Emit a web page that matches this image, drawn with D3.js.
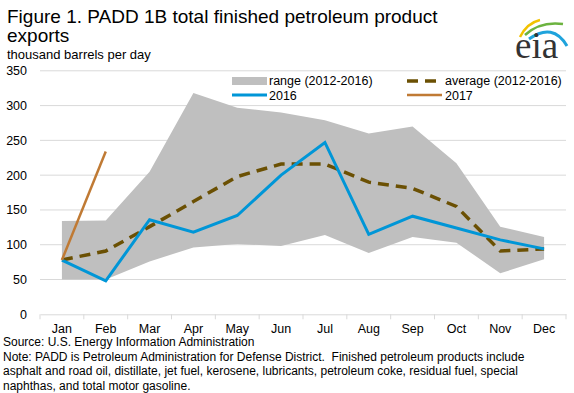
<!DOCTYPE html>
<html>
<head>
<meta charset="utf-8">
<script src="https://cdn.jsdelivr.net/npm/d3@7"></script>
<style>
  body { margin: 0; background: #fff; }
  svg text { font-family: "Liberation Sans", Arial, sans-serif; fill: #000; white-space: pre; }
</style>
</head>
<body>
<svg id="chart" width="574" height="393"></svg>
<script>
var months = ['Jan', 'Feb', 'Mar', 'Apr', 'May', 'Jun', 'Jul', 'Aug', 'Sep', 'Oct', 'Nov', 'Dec'];
var yTicks = [0, 50, 100, 150, 200, 250, 300, 350];

// thousand barrels per day
var rangeHigh = [134, 135, 205, 318, 297, 290, 279, 260, 270, 217, 126, 111];
var rangeLow = [50, 50, 76, 96, 101, 98, 114, 88, 111, 103, 59, 79];
var average = [78, 91, 126, 162, 198, 216, 216, 190, 181, 155, 91, 94];
var y2016 = [78, 48, 136, 118, 142, 200, 247, 115, 141, 124, 107, 94];
var y2017 = [78, 234];

var noteLines = [
    'Source: U.S. Energy Information Administration',
    'Note: PADD is Petroleum Administration for Defense District.  Finished petroleum products include',
    'asphalt and road oil, distillate, jet fuel, kerosene, lubricants, petroleum coke, residual fuel, special',
    'naphthas, and total motor gasoline.'
];

var svg = d3.select('#chart');

var x = d3.scaleBand(months, [40, 566]);
var y = d3.scaleLinear([0, 350], [314.3, 70.8]);
var cx = function(d, i) { return x(months[i]) + x.bandwidth() / 2; };

// title
svg.append('text').attr('x', 7).attr('y', 23).style('font-size', '19px')
    .text('Figure 1. PADD 1B total finished petroleum product');
svg.append('text').attr('x', 7).attr('y', 42).style('font-size', '19px').text('exports');
svg.append('text').attr('x', 7).attr('y', 59).style('font-size', '13px').text('thousand barrels per day');

// gridlines
svg.append('g').selectAll('line').data(yTicks.slice(1)).join('line')
    .attr('x1', 40).attr('x2', 566)
    .attr('y1', d => y(d)).attr('y2', d => y(d))
    .attr('stroke', '#d9d9d9').attr('stroke-width', 1);

var yAxis = d3.axisLeft(y).tickValues(yTicks).tickSize(0).tickPadding(13);
svg.append('g').attr('transform', 'translate(40,0)').call(yAxis)
    .call(g => g.select('.domain').remove())
    .selectAll('text').style('font-size', '12.5px').attr('font-family', null);

var xAxis = d3.axisBottom(x).tickSize(0).tickPadding(10);
var xg = svg.append('g').attr('transform', 'translate(0,' + y(0) + ')').call(xAxis);
xg.select('.domain').attr('stroke', '#d9d9d9');
xg.selectAll('text').style('font-size', '12.5px').attr('font-family', null);
// tick marks between categories
xg.selectAll('line.sep').data(months.concat(['end'])).join('line').attr('class', 'sep')
    .attr('x1', (d, i) => i < 12 ? x(d) : x.range()[1])
    .attr('x2', (d, i) => i < 12 ? x(d) : x.range()[1])
    .attr('y1', 0).attr('y2', 5).attr('stroke', '#d9d9d9');

// range band
var area = d3.area().x(cx).y0((d, i) => y(rangeLow[i])).y1(d => y(d));
svg.append('path').datum(rangeHigh).attr('d', area).attr('fill', '#bfbfbf');

var line = d3.line().x(cx).y(d => y(d));
svg.append('path').datum(average).attr('d', line).attr('fill', 'none')
    .attr('stroke', '#6b5003').attr('stroke-width', 3.5).attr('stroke-dasharray', '11,7');
svg.append('path').datum(y2016).attr('d', line).attr('fill', 'none')
    .attr('stroke', '#0096d7').attr('stroke-width', 3).attr('stroke-linejoin', 'miter');
svg.append('path').datum(y2017).attr('d', line).attr('fill', 'none')
    .attr('stroke', '#c07a34').attr('stroke-width', 2.5);

// legend
var lg = svg.append('g').style('font-size', '12.5px');
lg.append('rect').attr('x', 232).attr('y', 77).attr('width', 35).attr('height', 8).attr('fill', '#bfbfbf');
lg.append('text').attr('x', 269).attr('y', 85).text('range (2012-2016)');
lg.append('line').attr('x1', 407).attr('x2', 442).attr('y1', 81).attr('y2', 81)
    .attr('stroke', '#6b5003').attr('stroke-width', 3.5).attr('stroke-dasharray', '11,7');
lg.append('text').attr('x', 445).attr('y', 85).text('average (2012-2016)');
lg.append('line').attr('x1', 232).attr('x2', 267).attr('y1', 95).attr('y2', 95)
    .attr('stroke', '#0096d7').attr('stroke-width', 3);
lg.append('text').attr('x', 269).attr('y', 99.5).text('2016');
lg.append('line').attr('x1', 407).attr('x2', 442).attr('y1', 95).attr('y2', 95)
    .attr('stroke', '#c07a34').attr('stroke-width', 2.5);
lg.append('text').attr('x', 445).attr('y', 99.5).text('2017');

// source and notes
svg.append('g').selectAll('text').data(noteLines).join('text')
    .attr('x', 3).attr('y', (d, i) => 346 + i * 14.5)
    .style('font-size', '12px').text(d => d);

// eia logo
var logo = svg.append('g');
logo.append('path').attr('d', 'M520,37 Q527,23 540,20').attr('fill', 'none')
    .attr('stroke', '#f2c200').attr('stroke-width', 2.5);
logo.append('path').attr('d', 'M525,35 Q540,21 563,24').attr('fill', 'none')
    .attr('stroke', '#6cb33f').attr('stroke-width', 2.5);
logo.append('path').attr('d', 'M529,39 Q553,22 567,46').attr('fill', 'none')
    .attr('stroke', '#1fa3dc').attr('stroke-width', 3);
logo.append('text').attr('x', 515).attr('y', 58)
    .style('font-family', '"Liberation Serif", "DejaVu Serif", serif')
    .style('font-size', '37px').style('fill', '#333').text('eia');
</script>
</body>
</html>
